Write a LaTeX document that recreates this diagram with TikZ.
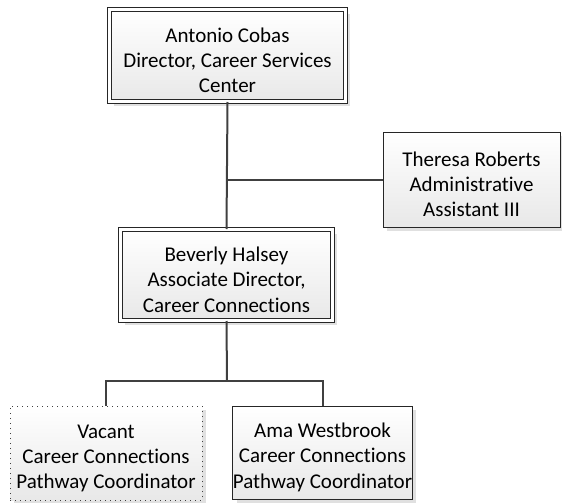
\documentclass[tikz,border=0pt]{standalone}
\usepackage{fontspec}
\setmainfont{Carlito}[RawFeature=-liga]
\usetikzlibrary{shadows}
\newcommand\boxstrut{\rule{0pt}{12pt}}
\begin{document}
\begin{tikzpicture}[
  x=0.5pt, y=-0.5pt,
  every node/.style={font=\fontsize{10.5}{12.6}\selectfont},
  orgbox/.style={rectangle, draw=black!85, line width=0.5pt, top color=white, bottom color=black!9, align=center, inner sep=0pt, drop shadow={shadow xshift=2pt, shadow yshift=-2pt, fill=black!12, opacity=1}},
  headbox/.style={orgbox, double=white, double distance=1.6pt},
  vacantbox/.style={orgbox, draw=black!75, dash pattern=on 0.5pt off 2pt},
  link/.style={draw=black!75, line width=1pt}
]
\useasboundingbox (0,0) rectangle (562,503);

% Boxes
\node[headbox, minimum width=118pt, minimum height=46pt] (cobas) at (227.5, 55.5) {\boxstrut Antonio Cobas\\Director, Career Services\\Center};
\node[orgbox, minimum width=88.5pt, minimum height=47.5pt] (roberts) at (471.5, 179.5) {\boxstrut Theresa Roberts\\Administrative\\Assistant III};
\node[headbox, minimum width=106pt, minimum height=45.5pt] (halsey) at (226.5, 275) {\boxstrut Beverly Halsey\\Associate Director,\\Career Connections};
\node[vacantbox, minimum width=96pt, minimum height=47pt] (vacant) at (106, 453) {\boxstrut Vacant\\Career Connections\\Pathway Coordinator};
\node[orgbox, minimum width=89.5pt, minimum height=46.5pt] (westbrook) at (322.5, 452.5) {\boxstrut Ama Westbrook\\Career Connections\\Pathway Coordinator};

% Connectors
\coordinate (assist) at (cobas.south |- roberts.west);
\coordinate (split) at (227, 381);
\draw[link] (cobas.south) -- (halsey.north);
\draw[link] (assist) -- (roberts.west);
\draw[link] (halsey.south) -- (split);
\draw[link] (vacant.north) |- (split) -| (westbrook.north);

\end{tikzpicture}
\end{document}
